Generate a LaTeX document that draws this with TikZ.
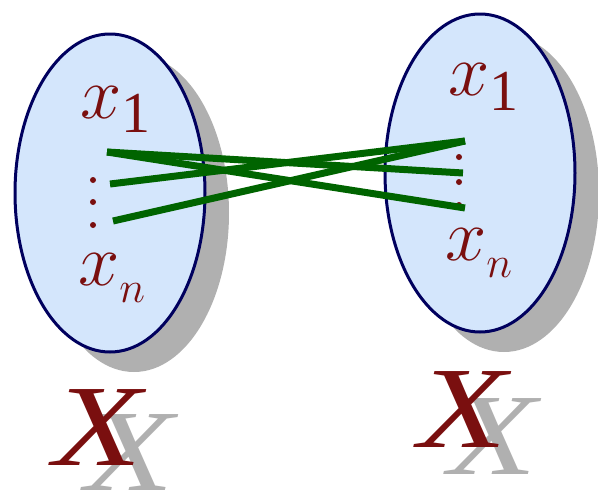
\RequirePackage{fix-cm}
\documentclass[tikz,border=0pt]{standalone}
\usepackage{fontspec}
\setmainfont{Liberation Serif}
\begin{document}
\begin{tikzpicture}[x=1pt, y=-1pt,
    setshape/.style={draw=borderColour, fill=fillColour, line width=3pt},
    shadowshape/.style={fill=shadowColour},
    elem/.style={anchor=base west, inner sep=0pt, text=labelColour, font=\fontsize{74}{74}\selectfont},
    setname/.style={anchor=base west, inner sep=0pt, font=\fontsize{116}{116}\selectfont\itshape},
    link/.style={draw=linkColour, line width=7pt}]
    % Define colours
    \definecolor{borderColour}{HTML}{00005E}
    \definecolor{fillColour}{HTML}{D4E6FC}
    \definecolor{shadowColour}{HTML}{B0B0B0}
    \definecolor{labelColour}{HTML}{7A0F0F}
    \definecolor{linkColour}{HTML}{006400}

    % Define ellipse radii
    \def\rx{95}
    \def\ry{159}

    \useasboundingbox (0,0) rectangle (598,493);

    % Draw shadows
    \fill[shadowshape] (134,213) ellipse [x radius=\rx, y radius=\ry];
    \fill[shadowshape] (504,193) ellipse [x radius=\rx, y radius=\ry];

    % Draw sets
    \filldraw[setshape] (110,193) ellipse [x radius=\rx, y radius=\ry];
    \filldraw[setshape] (480,173) ellipse [x radius=\rx, y radius=\ry];

    % Draw dots
    \foreach \y in {180,202,225}
        \fill[labelColour] (93,\y) circle (3);
    \foreach \y in {157,182,205}
        \fill[labelColour] (459,\y) circle (3);

    % Label elements
    \node[elem] (a1) at (80,118) {$x$\raisebox{-14pt}{\fontsize{58}{58}\selectfont 1}};
    \node[elem] (an) at (78,285) {$x$\raisebox{-17pt}{\fontsize{44}{44}\selectfont $n$}};
    \node[elem] (b1) at (448,95) {$x$\raisebox{-15pt}{\fontsize{58}{58}\selectfont 1}};
    \node[elem] (bn) at (445,260) {$x$\raisebox{-17pt}{\fontsize{44}{44}\selectfont $n$}};

    % Label sets
    \node[setname, text=shadowColour] (sA) at (85,490) {\scalebox{1.25}[1]{X}};
    \node[setname, text=labelColour] (nameA) at (53,465) {\scalebox{1.25}[1]{X}};
    \node[setname, text=shadowColour] (sB) at (448,474) {\scalebox{1.25}[1]{X}};
    \node[setname, text=labelColour] (nameB) at (418,447) {\scalebox{1.25}[1]{X}};

    % Define coordinates for the line ends
    \coordinate (l1) at (107,152);
    \coordinate (l2) at (110,184);
    \coordinate (l3) at (113,221);
    \coordinate (r1) at (465,141);
    \coordinate (r2) at (463,173);
    \coordinate (r3) at (465,208);

    % Draw links
    \draw[link] (l1) -- (r2);
    \draw[link] (l1) -- (r3);
    \draw[link] (l2) -- (r1);
    \draw[link] (l3) -- (r1);

\end{tikzpicture}
\end{document}
